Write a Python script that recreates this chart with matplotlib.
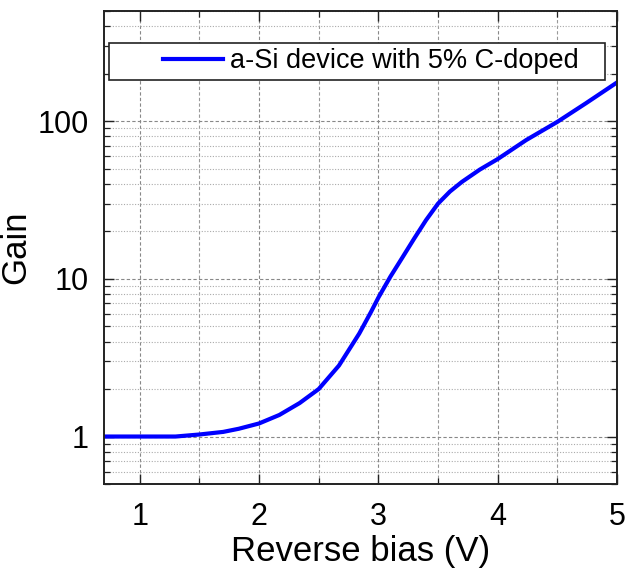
import matplotlib
matplotlib.use("Agg")
import matplotlib.pyplot as plt
import numpy as np
from matplotlib.legend_handler import HandlerLine2D
from matplotlib.ticker import LogLocator, MultipleLocator, NullFormatter, FixedLocator

plt.rcParams['font.family'] = ['Liberation Sans', 'DejaVu Sans']

# Data
bias = [0.7, 1.0, 1.3, 1.5, 1.7, 1.83, 2.0, 2.17, 2.34, 2.5, 2.67, 2.84,
        2.94, 3.0, 3.1, 3.2, 3.3, 3.4, 3.5, 3.6, 3.7, 3.85,
        4.0, 4.24, 4.5, 4.74, 5.0]
gain = [1.0, 1.0, 1.0, 1.03, 1.07, 1.12, 1.21, 1.37, 1.63, 2.0, 2.82, 4.5,
        6.2, 7.6, 10.3, 13.6, 18.0, 23.6, 30, 35.8, 41.2, 49.3,
        57.5, 76, 99, 130, 176]
xticks = [1, 2, 3, 4, 5]
yticks = [1, 10, 100]
ytick_labels = ['1', '10', '100']
series_label = 'a-Si device with 5% C-doped'


class ShiftedLine(HandlerLine2D):
    def get_xdata(self, legend, xdescent, ydescent, width, height, fontsize):
        x = np.array([-xdescent + width * 0.45, -xdescent + width])
        return x, x


fig = plt.figure(figsize=(6.26, 5.69), dpi=100)
ax = fig.add_axes([0.166, 0.1494, 0.8196, 0.8313])

ax.plot(bias, gain, color='#0000FF', lw=3.0, label=series_label,
        solid_joinstyle='round')

ax.set_yscale('log')
ax.set_xlim(0.7, 5.0)
ax.set_ylim(0.5, 500)

ax.xaxis.set_major_locator(FixedLocator(xticks))
ax.xaxis.set_minor_locator(MultipleLocator(0.5))
ax.yaxis.set_major_locator(FixedLocator(yticks))
ax.set_yticklabels(ytick_labels)
ax.yaxis.set_minor_locator(LogLocator(base=10, subs=np.arange(2, 10)))
ax.yaxis.set_minor_formatter(NullFormatter())

ax.tick_params(which='both', direction='in', top=True, right=True,
               colors='#222222', labelcolor='black')
ax.tick_params(which='major', length=7, width=1.0, labelsize=22)
ax.tick_params(axis='y', which='major', pad=11)
ax.tick_params(axis='x', which='major', pad=13)
ax.tick_params(which='minor', length=4, width=0.9)

ax.grid(True, which='major', color='#888888', linestyle=(0, (3, 2)), lw=0.8)
ax.grid(True, which='minor', axis='x', color='#999999', linestyle=(0, (3, 2)), lw=0.8)
ax.grid(True, which='minor', axis='y', color='#aaaaaa', linestyle=(0, (1, 1.5)), lw=0.8)

for s in ax.spines.values():
    s.set_color('#222222')
    s.set_linewidth(1.4)

ax.set_xlabel('Reverse bias (V)', fontsize=25, labelpad=2)
ax.set_ylabel('Gain', fontsize=25, labelpad=4)

leg = ax.legend(loc='upper left', bbox_to_anchor=(0.00975, 0, 0.967, 0.9324),
                mode='expand', borderaxespad=0, fontsize=19.5, fancybox=False,
                framealpha=1, edgecolor='#222222', borderpad=0.2,
                handlelength=4.0, handletextpad=0.26,
                handler_map={plt.Line2D: ShiftedLine()})
leg.get_frame().set_linewidth(1.2)

fig.savefig('out.png', dpi=100)
